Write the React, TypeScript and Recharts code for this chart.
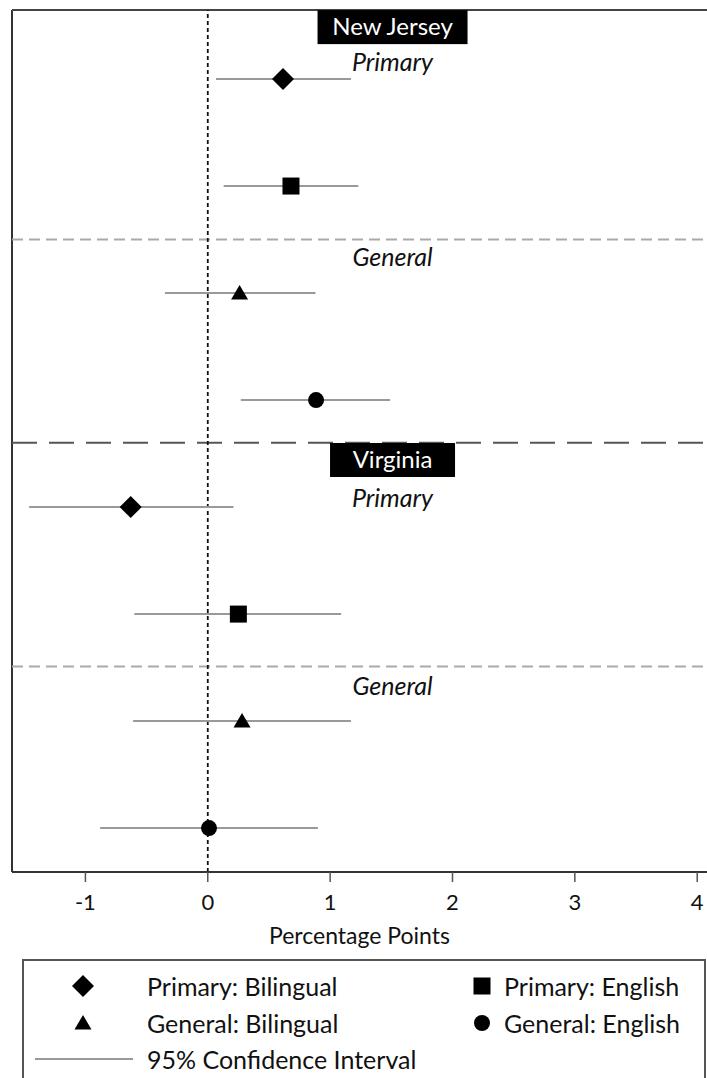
import React from "react";
import {
  ComposedChart,
  Scatter,
  XAxis,
  YAxis,
  ReferenceLine,
} from "recharts";

// series order inside each state block
const SERIES = ["Primary: Bilingual", "Primary: English", "General: Bilingual", "General: English"];
const MARKERS = ["diamond", "square", "triangle", "circle"];

// point estimates and 95% CI
const NJ_EST = [0.615, 0.68, 0.26, 0.885];
const NJ_LOW = [0.067, 0.13, -0.35, 0.27];
const NJ_HIGH = [1.17, 1.23, 0.88, 1.49];

const VA_EST = [-0.63, 0.25, 0.28, 0.01];
const VA_LOW = [-1.46, -0.6, -0.61, -0.88];
const VA_HIGH = [0.21, 1.09, 1.17, 0.9];

const X_TICKS = [-1, 0, 1, 2, 3, 4];
const X_DOMAIN: [number, number] = [-1.6, 4.08];
const Y_DOMAIN: [number, number] = [0.355, 8.41];

const MINOR_DIVIDERS = [2.5, 6.49];
const MAJOR_DIVIDER = 4.4;

const SECTION_LABELS = [
  { x: 1.51, y: 0.515, text: "New Jersey", boxed: true },
  { x: 1.51, y: 0.85, text: "Primary", boxed: false },
  { x: 1.51, y: 2.67, text: "General", boxed: false },
  { x: 1.51, y: 4.56, text: "Virginia", boxed: true },
  { x: 1.51, y: 4.92, text: "Primary", boxed: false },
  { x: 1.51, y: 6.68, text: "General", boxed: false },
];

const FONT = "Lato, 'Noto Sans', sans-serif";
const BOX_W: Record<string, number> = { "New Jersey": 150, Virginia: 125 };

type Row = { name: string; x: number; y: number; lo: number; hi: number };

const rows: Row[] = [];
[
  [NJ_EST, NJ_LOW, NJ_HIGH],
  [VA_EST, VA_LOW, VA_HIGH],
].forEach(([est, lo, hi], s) => {
  est.forEach((v, i) => {
    rows.push({ name: SERIES[i], x: v, y: s * 4 + i + 1, lo: lo[i], hi: hi[i] });
  });
});

const drawMarker = (kind: string, cx: number, cy: number) => {
  if (kind === "diamond")
    return <polygon points={`${cx},${cy - 11} ${cx + 11},${cy} ${cx},${cy + 11} ${cx - 11},${cy}`} fill="#000" />;
  if (kind === "square") return <rect x={cx - 8.5} y={cy - 8.5} width={17} height={17} fill="#000" />;
  if (kind === "triangle")
    return <polygon points={`${cx},${cy - 8} ${cx + 8.5},${cy + 6.5} ${cx - 8.5},${cy + 6.5}`} fill="#000" />;
  return <circle cx={cx} cy={cy} r={8} fill="#000" />;
};

const LabelShape = (props: any) => {
  const { cx, cy, payload } = props;
  if (payload.boxed) {
    const w = BOX_W[payload.text] || 130;
    return (
      <g>
        <rect x={cx - w / 2} y={cy - 17} width={w} height={34} fill="#000" />
        <text x={cx} y={cy + 8} textAnchor="middle" fill="#fff" fontSize={24} fontFamily={FONT}>
          {payload.text}
        </text>
      </g>
    );
  }
  return (
    <text x={cx} y={cy + 8} textAnchor="middle" fill="#111" fontSize={25} fontStyle="italic" fontFamily={FONT}>
      {payload.text}
    </text>
  );
};

const Marker = ({ kind, left, top }: { kind: string; left: number; top: number }) => (
  <svg width={24} height={30} style={{ position: "absolute", left, top }}>
    {drawMarker(kind, 12, 15)}
  </svg>
);

const legendText = (left: number, top: number): React.CSSProperties => ({
  position: "absolute",
  left,
  top,
  lineHeight: "30px",
  whiteSpace: "nowrap",
});

export default function App() {
  return (
    <div
      style={{
        position: "absolute",
        left: 0,
        top: 0,
        width: 707,
        height: 1078,
        overflow: "hidden",
        background: "#fff",
        fontFamily: FONT,
      }}
    >
      <ComposedChart width={707} height={950} margin={{ top: 10, right: 0, left: 12, bottom: 0 }}>
        <XAxis
          type="number"
          dataKey="x"
          domain={X_DOMAIN}
          ticks={X_TICKS}
          allowDataOverflow
          height={78}
          tickSize={10}
          tickMargin={12}
          axisLine={{ stroke: "#333", strokeWidth: 2 }}
          tickLine={{ stroke: "#555", strokeWidth: 1.5 }}
          tick={{ fill: "#111", fontSize: 22, fontFamily: FONT }}
          label={{
            value: "Percentage Points",
            position: "insideBottom",
            offset: 6,
            fill: "#111",
            fontSize: 23,
            fontFamily: FONT,
          }}
        />
        <YAxis type="number" dataKey="y" domain={Y_DOMAIN} reversed hide allowDataOverflow />

        {/* frame */}
        <ReferenceLine x={X_DOMAIN[0]} stroke="#333" strokeWidth={2} />
        <ReferenceLine y={Y_DOMAIN[0]} stroke="#444" strokeWidth={2} />

        {MINOR_DIVIDERS.map((d) => (
          <ReferenceLine key={d} y={d} stroke="#aaa" strokeWidth={2} strokeDasharray="11 6" />
        ))}
        <ReferenceLine y={MAJOR_DIVIDER} stroke="#555" strokeWidth={2} strokeDasharray="25 12" />
        <ReferenceLine x={0} stroke="#111" strokeWidth={1.8} strokeDasharray="4 3" />

        {rows.map((r) => (
          <ReferenceLine
            key={`ci-${r.y}`}
            segment={[
              { x: r.lo, y: r.y },
              { x: r.hi, y: r.y },
            ]}
            stroke="#999"
            strokeWidth={2}
          />
        ))}

        {SERIES.map((name, i) => (
          <Scatter
            key={name}
            name={name}
            data={rows.filter((r) => r.name === name)}
            isAnimationActive={false}
            shape={(p: any) => drawMarker(MARKERS[i], p.cx, p.cy)}
          />
        ))}

        <Scatter data={SECTION_LABELS} isAnimationActive={false} shape={LabelShape} />
      </ComposedChart>

      <div
        style={{
          position: "absolute",
          left: 22,
          top: 959,
          width: 680,
          height: 160,
          border: "2px solid #555",
          fontSize: 25,
          color: "#111",
        }}
      >
        <Marker kind="diamond" left={47} top={10} />
        <div style={legendText(123, 10)}>Primary: Bilingual</div>
        <Marker kind="triangle" left={47} top={47} />
        <div style={legendText(123, 47)}>General: Bilingual</div>
        <Marker kind="square" left={446} top={10} />
        <div style={legendText(480, 10)}>Primary: English</div>
        <Marker kind="circle" left={446} top={47} />
        <div style={legendText(480, 47)}>General: English</div>
        <div
          style={{ position: "absolute", left: 11, top: 97, width: 98, height: 0, borderTop: "2px solid #999" }}
        />
        <div style={legendText(123, 83)}>95% Confidence Interval</div>
      </div>
    </div>
  );
}
